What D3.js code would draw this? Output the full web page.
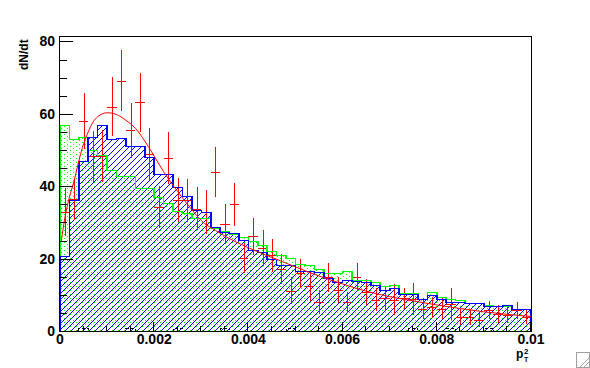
<!DOCTYPE html>
<html>
<head>
<meta charset="utf-8">
<script src="https://cdn.jsdelivr.net/npm/d3@7"></script>
<style>
  body { margin: 0; background: #fff; }
  text { font-family: "Liberation Sans", Arial, sans-serif; font-weight: bold; }
</style>
</head>
<body>
<div id="chart"></div>
<script>
// binning: 50 bins of 0.0002 from 0 to 0.01
var binLow = 0, binWidth = 0.0002;

// green histogram (dotted fill)
var greenVals = [56.8, 53.1, 53.7, 50.1, 48.5, 44.5, 42.7, 42.7, 39.6, 39.6,
                 37.0, 35.3, 33.1, 32.6, 31.3, 31.3, 28.5, 27.6, 26.7, 26.0,
                 24.9, 23.7, 22.1, 20.9, 20.3, 18.6, 18.2, 17.2, 16.0, 16.0,
                 16.5, 14.0, 14.0, 13.4, 12.3, 12.8, 10.5, 10.5, 8.9, 10.7,
                 9.4, 8.8, 8.7, 7.8, 7.8, 7.2, 7.0, 7.0, 6.2, 6.2];

// blue histogram (hatched fill)
var blueVals = [20.6, 36.1, 47.1, 53.7, 57.0, 53.1, 53.4, 51.1, 51.1, 48.2,
                43.3, 43.3, 39.8, 37.2, 33.3, 33.0, 28.6, 27.4, 27.0, 25.2,
                22.5, 21.8, 19.8, 18.2, 18.2, 16.6, 16.6, 16.2, 14.7, 13.5,
                14.2, 13.8, 13.4, 12.6, 11.4, 12.0, 10.2, 10.2, 8.9, 10.0,
                8.9, 8.1, 8.1, 7.8, 7.8, 7.0, 7.0, 7.3, 6.2, 6.2];

// red data points and errors
var redVals = [32.9, 36.5, 58.1, 48.3, 48.3, 62.0, 69.2, 55.4, 63.2, 49.0,
               34.2, 47.9, 36.1, 36.1, 33.8, 32.9, 43.9, 29.5, 35.0, 20.2,
               26.2, 23.0, 20.9, 17.2, 11.1, 15.9, 12.4, 8.0, 14.9, 11.3,
               7.9, 14.9, 10.8, 8.7, 9.0, 8.7, 9.0, 8.8, 6.2, 6.5,
               6.2, 7.5, 3.9, 3.9, 3.0, 5.7, 4.8, 4.4, 5.7, 3.9];
var redErrs = [6.6, 5.8, 7.7, 7.0, 7.2, 8.2, 8.3, 7.5, 8.2, 7.2,
               5.8, 7.2, 6.1, 6.0, 5.9, 6.0, 6.8, 5.5, 6.0, 4.2,
               5.1, 5.0, 4.6, 4.1, 3.7, 3.9, 4.0, 3.2, 4.0, 3.7,
               3.0, 3.9, 3.5, 3.1, 3.1, 4.4, 3.0, 4.4, 2.8, 2.8,
               2.8, 4.5, 2.2, 2.2, 2.0, 2.5, 2.5, 2.2, 2.4, 2.0];

// black dashed histogram near zero
var blackVals = [0, 0, 0.8, 0, 0, 0, 0, 0.8, 0, 0,
                 0, 0, 0.8, 0, 0, 0, 0, 0.8, 0, 0,
                 0, 0, 0, 0, 0.8, 0, 0, 0, 0, 0,
                 0, 0, 0, 0, 0, 0, 0, 0.8, 0, 0,
                 0, 0.8, 0, 0, 0, 0.8, 0, 0, 0, 0];

// fitted curve
var fitX = [0.00003, 0.0001, 0.0002, 0.0003, 0.0004, 0.0005, 0.0006, 0.0007, 0.0008, 0.0009,
            0.001, 0.0011, 0.0012, 0.0014, 0.0016, 0.0018, 0.002, 0.0022, 0.0025, 0.0028,
            0.003, 0.0033, 0.0036, 0.004, 0.0045, 0.005, 0.0055, 0.006, 0.0065, 0.007,
            0.0075, 0.008, 0.0085, 0.009, 0.0095, 0.01];
var fitY = [25.0, 31.0, 37.0, 41.5, 47.0, 51.7, 55.0, 57.7, 59.2, 60.0,
            60.3, 60.2, 59.8, 58.2, 56.0, 52.5, 48.3, 44.0, 38.5, 33.5,
            30.5, 27.8, 25.5, 23.0, 20.3, 17.7, 15.2, 13.0, 11.0, 9.5,
            8.3, 7.2, 6.2, 5.3, 4.6, 4.0];

var xTickVals = [0, 0.002, 0.004, 0.006, 0.008, 0.01];
var xTickLabels = ["0", "0.002", "0.004", "0.006", "0.008", "0.01"];
var yTickVals = [0, 20, 40, 60, 80];

var W = 590, H = 368;
var plot = {left: 60, right: 531, top: 36, bottom: 331};

var x = d3.scaleLinear().domain([0, 0.01]).range([plot.left, plot.right]);
var y = d3.scaleLinear().domain([0, 81.5]).range([plot.bottom, plot.top]);

var svg = d3.select("#chart").append("svg")
    .attr("width", W)
    .attr("height", H);

svg.append("rect").attr("width", W).attr("height", H).attr("fill", "#fff");

var defs = svg.append("defs");

// green dot pattern
var pg = defs.append("pattern")
    .attr("id", "dotsGreen")
    .attr("patternUnits", "userSpaceOnUse")
    .attr("width", 6).attr("height", 4);
[[1, 0], [4, 2]].forEach(function(p) {
  pg.append("rect").attr("x", p[0]).attr("y", p[1])
    .attr("width", 1).attr("height", 1).attr("fill", "#00ff00");
});

// blue hatch pattern
var pb = defs.append("pattern")
    .attr("id", "hatchBlue")
    .attr("patternUnits", "userSpaceOnUse")
    .attr("width", 6).attr("height", 6);
d3.range(6).forEach(function(i) {
  pb.append("rect").attr("x", i).attr("y", 5 - i)
    .attr("width", 1).attr("height", 1).attr("fill", "#0000ff");
});

defs.append("clipPath").attr("id", "frameClip")
  .append("rect")
    .attr("x", plot.left).attr("y", plot.top)
    .attr("width", plot.right - plot.left)
    .attr("height", plot.bottom - plot.top);

var g = svg.append("g").attr("clip-path", "url(#frameClip)");

function binLo(i) { return binLow + i * binWidth; }
function binHi(i) { return binLow + (i + 1) * binWidth; }

function stepPath(vals, closed) {
  var p = d3.path();
  p.moveTo(x(binLo(0)), y(0));
  vals.forEach(function(v, i) {
    p.lineTo(x(binLo(i)), Math.round(y(v)) + 0.5);
    p.lineTo(x(binHi(i)), Math.round(y(v)) + 0.5);
  });
  p.lineTo(x(binHi(vals.length - 1)), y(0));
  if (closed) p.closePath();
  return p.toString();
}

// fills
g.append("path").attr("d", stepPath(greenVals, true)).attr("fill", "url(#dotsGreen)");
g.append("path").attr("d", stepPath(blueVals, true)).attr("fill", "url(#hatchBlue)");

// red data points
var pts = g.append("g").attr("stroke", "#ff0000").attr("stroke-width", 1)
    .attr("shape-rendering", "crispEdges");
redVals.forEach(function(v, i) {
  var xc = Math.round(x(binLo(i) + binWidth / 2)) + 0.5;
  var yc = Math.round(y(v)) + 0.5;
  pts.append("line")
    .attr("x1", x(binLo(i))).attr("x2", x(binHi(i)))
    .attr("y1", yc).attr("y2", yc);
  pts.append("line")
    .attr("x1", xc).attr("x2", xc)
    .attr("y1", y(v + redErrs[i])).attr("y2", y(v - redErrs[i]));
});

// outlines
g.append("path").attr("d", stepPath(greenVals, false))
  .attr("fill", "none").attr("stroke", "#00ff00").attr("stroke-width", 1.6)
  .attr("shape-rendering", "crispEdges");
g.append("path").attr("d", stepPath(blueVals, false))
  .attr("fill", "none").attr("stroke", "#0000ff").attr("stroke-width", 1.6)
  .attr("shape-rendering", "crispEdges");

// black dashed histogram
g.append("path").attr("d", stepPath(blackVals, false))
  .attr("fill", "none").attr("stroke", "#000").attr("stroke-width", 1)
  .attr("stroke-dasharray", "3,2")
  .attr("shape-rendering", "crispEdges");

// fit curve
var fitData = fitX.map(function(d, i) { return [d, fitY[i]]; });
g.append("path")
  .datum(fitData)
  .attr("fill", "none")
  .attr("stroke", "#ff0000")
  .attr("stroke-width", 1)
  .attr("d", d3.line()
    .x(function(d) { return x(d[0]); })
    .y(function(d) { return y(d[1]); })
    .curve(d3.curveMonotoneX));

// frame
svg.append("rect")
  .attr("x", plot.left - 0.5).attr("y", plot.top + 0.5)
  .attr("width", plot.right - plot.left + 1).attr("height", plot.bottom - plot.top)
  .attr("fill", "none").attr("stroke", "#000").attr("stroke-width", 1)
  .attr("shape-rendering", "crispEdges");

// y axis ticks
var yMinor = d3.range(0, 81, 5);
var axes = svg.append("g").attr("stroke", "#000").attr("shape-rendering", "crispEdges");
yMinor.forEach(function(v) {
  var yy = Math.round(y(v)) + 0.5;
  var len = (v % 20 === 0) ? 13 : 7;
  axes.append("line").attr("x1", plot.left).attr("x2", plot.left + len)
    .attr("y1", yy).attr("y2", yy);
});
// x axis ticks
var xMinor = d3.range(0, 21).map(function(k) { return k * 0.0005; });
xMinor.forEach(function(v, k) {
  var xx = Math.round(x(v)) - 0.5;
  var len = (k % 4 === 0) ? 9 : 5;
  axes.append("line").attr("x1", xx).attr("x2", xx)
    .attr("y1", plot.bottom).attr("y2", plot.bottom - len);
});

// tick labels
svg.selectAll(".ylab").data(yTickVals).enter().append("text")
  .attr("class", "ylab")
  .attr("x", 55)
  .attr("y", function(d) { return y(d) + 5; })
  .attr("text-anchor", "end")
  .attr("font-size", 14)
  .text(function(d) { return d; });

svg.selectAll(".xlab").data(xTickVals).enter().append("text")
  .attr("class", "xlab")
  .attr("x", function(d) { return x(d); })
  .attr("y", 344)
  .attr("text-anchor", "middle")
  .attr("font-size", 14)
  .text(function(d, i) { return xTickLabels[i]; });

// axis titles
svg.append("text")
  .attr("transform", "translate(28,70) rotate(-90)")
  .attr("font-size", 12)
  .text("dN/dt");

var xt = svg.append("text").attr("x", 516).attr("y", 358).attr("font-size", 12);
xt.append("tspan").text("p");
xt.append("tspan").attr("x", 524).attr("y", 354).attr("font-size", 8).text("2");
xt.append("tspan").attr("x", 524).attr("y", 362).attr("font-size", 7).text("T");

// window resize grip
var grip = svg.append("g").attr("stroke", "#a0a0a0").attr("fill", "none").attr("shape-rendering", "crispEdges");
grip.append("rect").attr("x", 576.5).attr("y", 352.5).attr("width", 13).attr("height", 15);
grip.append("line").attr("x1", 580).attr("y1", 367).attr("x2", 589).attr("y2", 358);
grip.append("line").attr("x1", 584).attr("y1", 367).attr("x2", 589).attr("y2", 362);
</script>
</body>
</html>
